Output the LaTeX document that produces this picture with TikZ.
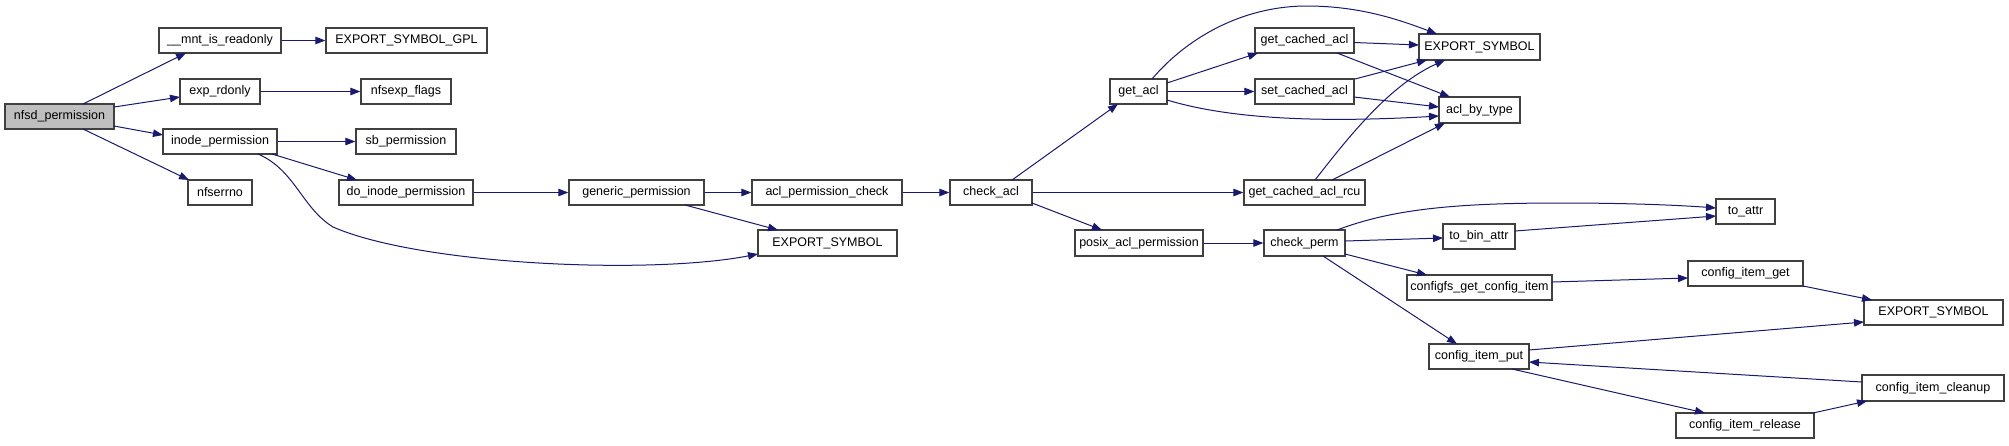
\documentclass[tikz,border=0pt]{standalone}
\usepackage{fontspec}
\setmainfont{Liberation Sans}
\usetikzlibrary{arrows.meta}
\definecolor{edgeblue}{RGB}{25,25,112}
\definecolor{boxline}{RGB}{64,64,64}
\definecolor{rootfill}{RGB}{191,191,191}
\tikzset{
  fn/.style={draw=boxline, line width=1.3pt, fill=white, inner sep=0pt, minimum height=25pt,
    font=\fontsize{12.5}{14}\selectfont, text=black},
  root/.style={fn, fill=rootfill},
  call/.style={draw=edgeblue, line width=1pt, -{Triangle[length=10pt,width=7.5pt]}},
}
\begin{document}
\begin{tikzpicture}[x=1pt,y=-1pt]
\useasboundingbox[fill=white] (0,0) rectangle (2009,445);
% nodes
\node[root, minimum width=109pt] (nfsd) at (59.5,116.5) {nfsd\_permission};
\node[fn, minimum width=122pt] (mnt) at (220,40.5) {\_\_mnt\_is\_readonly};
\node[fn, minimum width=161pt] (gpl) at (406.5,40.5) {EXPORT\_SYMBOL\_GPL};
\node[fn, minimum width=80pt] (exprd) at (220,91.5) {exp\_rdonly};
\node[fn, minimum width=90pt] (nfsexp) at (406,91.5) {nfsexp\_flags};
\node[fn, minimum width=114pt] (inodep) at (220,141.5) {inode\_permission};
\node[fn, minimum width=100pt] (sbp) at (406,141.5) {sb\_permission};
\node[fn, minimum width=64pt] (nfserrno) at (220,192.5) {nfserrno};
\node[fn, minimum width=134pt] (doinode) at (406,192.5) {do\_inode\_permission};
\node[fn, minimum width=135pt] (generic) at (636.5,192.5) {generic\_permission};
\node[fn, minimum width=150pt] (aclperm) at (827,192.5) {acl\_permission\_check};
\node[fn, minimum width=139pt, minimum height=26pt] (export1) at (827.5,243) {EXPORT\_SYMBOL};
\node[fn, minimum width=82pt] (checkacl) at (991,192.5) {check\_acl};
\node[fn, minimum width=57pt] (getacl) at (1138.5,91.5) {get\_acl};
\node[fn, minimum width=99pt] (getcached) at (1304.5,40.5) {get\_cached\_acl};
\node[fn, minimum width=99pt] (setcached) at (1304.5,91.5) {set\_cached\_acl};
\node[fn, minimum width=121pt, minimum height=26pt] (export2) at (1479.5,47) {EXPORT\_SYMBOL};
\node[fn, minimum width=81pt, minimum height=26pt] (aclbytype) at (1479.5,110) {acl\_by\_type};
\node[fn, minimum width=121pt] (rcu) at (1304.5,192.5) {get\_cached\_acl\_rcu};
\node[fn, minimum width=128pt, minimum height=26pt] (posix) at (1139,243) {posix\_acl\_permission};
\node[fn, minimum width=81pt, minimum height=26pt] (checkperm) at (1304.5,243) {check\_perm};
\node[fn, minimum width=72pt] (tobin) at (1479,236.5) {to\_bin\_attr};
\node[fn, minimum width=59pt] (toattr) at (1745.5,211.5) {to\_attr};
\node[fn, minimum width=145pt] (cfsget) at (1479.5,287.5) {configfs\_get\_config\_item};
\node[fn, minimum width=115pt] (itemget) at (1745.5,273.5) {config\_item\_get};
\node[fn, minimum width=100pt] (itemput) at (1479,356.5) {config\_item\_put};
\node[fn, minimum width=139pt] (export3) at (1933.5,312.5) {EXPORT\_SYMBOL};
\node[fn, minimum width=142pt, minimum height=26pt] (cleanup) at (1933,388) {config\_item\_cleanup};
\node[fn, minimum width=138pt] (release) at (1745,425.5) {config\_item\_release};
% edges
\draw[call] ([shift={(23.5,-12.5)}]nfsd.center) -- ([shift={(-34,12.5)}]mnt.center);
\draw[call] ([shift={(54.5,-9.5)}]nfsd.center) -- ([shift={(-40,5.5)}]exprd.center);
\draw[call] ([shift={(54.5,9.5)}]nfsd.center) -- ([shift={(-57,-6.5)}]inodep.center);
\draw[call] ([shift={(23.5,12.5)}]nfsd.center) -- ([shift={(-31,-12.5)}]nfserrno.center);
\draw[call] (mnt.east) -- (gpl.west);
\draw[call] (exprd.east) -- (nfsexp.west);
\draw[call] (inodep.east) -- (sbp.west);
\draw[call] ([shift={(52,12.5)}]inodep.center) -- ([shift={(-49,-12.5)}]doinode.center);
\draw[call] ([shift={(38,12.5)}]inodep.center) .. controls (295,170) and (302,208) .. (333,227)
   .. controls (420,265) and (650,275) .. ([shift={(-69.5,11)}]export1.center);
\draw[call] (doinode.east) -- (generic.west);
\draw[call] (generic.east) -- (aclperm.west);
\draw[call] ([shift={(48.5,12.5)}]generic.center) -- ([shift={(-49.5,-13)}]export1.center);
\draw[call] (aclperm.east) -- (checkacl.west);
\draw[call] ([shift={(21,-12.5)}]checkacl.center) -- ([shift={(-20.5,12.5)}]getacl.center);
\draw[call] (checkacl.east) -- (rcu.west);
\draw[call] ([shift={(41,10.5)}]checkacl.center) -- ([shift={(-37,-13)}]posix.center);
\draw[call] ([shift={(28.5,-8.5)}]getacl.center) -- ([shift={(-46.5,12.5)}]getcached.center);
\draw[call] (getacl.east) -- (setcached.west);
\draw[call] ([shift={(13.5,-12.5)}]getacl.center) .. controls (1185,40) and (1240,6) .. (1307,6)
   .. controls (1360,6) and (1400,20) .. ([shift={(-42.5,-13)}]export2.center);
\draw[call] ([shift={(28.5,8.5)}]getacl.center) .. controls (1220,116) and (1300,124) .. ([shift={(-40.5,6)}]aclbytype.center);
\draw[call] ([shift={(49.5,2)}]getcached.center) -- ([shift={(-60.5,-2)}]export2.center);
\draw[call] ([shift={(32.5,12.5)}]getcached.center) -- ([shift={(-29.5,-13)}]aclbytype.center);
\draw[call] ([shift={(50.5,-12.5)}]setcached.center) -- ([shift={(-52.5,13)}]export2.center);
\draw[call] ([shift={(49.5,5.5)}]setcached.center) -- ([shift={(-40.5,-3)}]aclbytype.center);
\draw[call] ([shift={(10.5,-12.5)}]rcu.center) .. controls (1350,135) and (1390,85) .. ([shift={(-34.5,13)}]export2.center);
\draw[call] ([shift={(27.5,-12.5)}]rcu.center) -- ([shift={(-34.5,13)}]aclbytype.center);
\draw[call] (posix.east) -- (checkperm.west);
\draw[call] ([shift={(32.5,-13)}]checkperm.center) .. controls (1390,210) and (1450,203) .. (1560,203)
   .. controls (1640,203) and (1690,206) .. ([shift={(-29.5,-3.5)}]toattr.center);
\draw[call] ([shift={(40.5,-2)}]checkperm.center) -- ([shift={(-36,1.5)}]tobin.center);
\draw[call] ([shift={(40.5,11)}]checkperm.center) -- ([shift={(-52.5,-12.5)}]cfsget.center);
\draw[call] ([shift={(18.5,13)}]checkperm.center) -- ([shift={(-22,-12.5)}]itemput.center);
\draw[call] ([shift={(36,-5.5)}]tobin.center) -- ([shift={(-29.5,4.5)}]toattr.center);
\draw[call] ([shift={(72.5,-5.5)}]cfsget.center) -- ([shift={(-57.5,4.5)}]itemget.center);
\draw[call] ([shift={(57.5,12.5)}]itemget.center) -- ([shift={(-61.5,-12.5)}]export3.center);
\draw[call] ([shift={(50,-6.5)}]itemput.center) -- ([shift={(-69.5,9.5)}]export3.center);
\draw[call] ([shift={(-71,-6)}]cleanup.center) -- ([shift={(50,5.5)}]itemput.center);
\draw[call] ([shift={(33,12.5)}]itemput.center) -- ([shift={(-40,-12.5)}]release.center);
\draw[call] ([shift={(68,-12.5)}]release.center) -- ([shift={(-66,13)}]cleanup.center);
\end{tikzpicture}
\end{document}
